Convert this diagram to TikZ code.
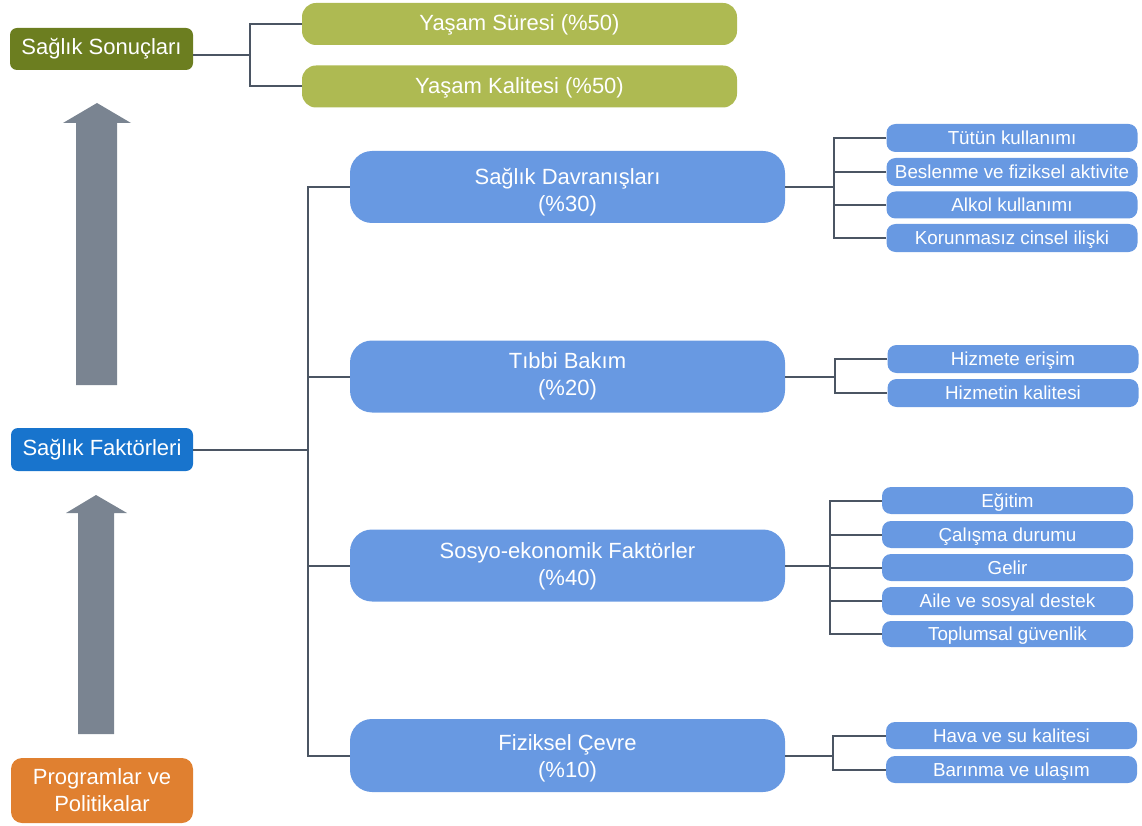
\documentclass[tikz,border=0pt]{standalone}
\usepackage{fontspec}
\setmainfont{Liberation Sans}
\definecolor{olivedark}{RGB}{108,126,32}
\definecolor{olivelight}{RGB}{174,186,82}
\definecolor{navblue}{RGB}{24,116,205}
\definecolor{boxblue}{RGB}{104,153,226}
\definecolor{orangebox}{RGB}{224,128,48}
\definecolor{arrowgray}{RGB}{122,132,145}
\definecolor{linkgray}{RGB}{75,85,99}
% two centred lines, lowered by #1 without changing the box size
\newcommand{\lowlines}[3]{\raisebox{-#1}[\height][\depth]{%
  \begin{tabular}{@{}c@{}}#2\\#3\end{tabular}}}
\tikzset{
  basebox/.style={inner sep=0pt, text=white, align=center,
    font=\fontsize{22}{27}\selectfont},
  toplabel/.style={basebox, fill=olivedark, rounded corners=7pt,
    minimum width=183pt, minimum height=42pt},
  outcome/.style={basebox, fill=olivelight, rounded corners=14pt,
    minimum width=435pt, minimum height=42pt},
  factorlabel/.style={basebox, fill=navblue, rounded corners=7pt,
    minimum width=182pt, minimum height=43pt},
  policylabel/.style={basebox, fill=orangebox, rounded corners=11pt,
    minimum width=182pt, minimum height=65pt},
  category/.style={basebox, fill=boxblue, rounded corners=22pt,
    minimum width=435pt, minimum height=72pt},
  detail/.style={basebox, fill=boxblue, rounded corners=9pt,
    minimum width=251pt, minimum height=28pt,
    text height=15.5pt, text depth=2pt,
    font=\fontsize{18.8}{22}\selectfont},
  link/.style={draw=linkgray, line width=2pt},
  bigarrow/.style={fill=arrowgray}
}
\begin{document}
\begin{tikzpicture}[x=1pt,y=-1pt]
\useasboundingbox (0,0) rectangle (1142,826);

% upward arrows between the three left-hand levels
\fill[bigarrow] (76,385) -- (76,123) -- (63,123) -- (97,103) -- (131,123)
  -- (117,123) -- (117,385) -- cycle;
\fill[bigarrow] (78,734) -- (78,513) -- (66,513) -- (96,495) -- (127,513)
  -- (114,513) -- (114,734) -- cycle;

% left column
\node[toplabel] (ss) at (101.5,49) {Sağlık Sonuçları};
\node[factorlabel] (sf) at (102,449.5) {Sağlık Faktörleri};
\node[policylabel] (pp) at (102,790.5) {Programlar ve\\Politikalar};

% outcomes
\node[outcome] (ys) at (519.5,24) {\raisebox{-1pt}[\height][\depth]{Yaşam Süresi (\%50)}};
\node[outcome] (yk) at (519.5,86.5) {\raisebox{-1pt}[\height][\depth]{Yaşam Kalitesi (\%50)}};

% factor categories
\node[category] (m1) at (567.5,187) {\lowlines{6pt}{Sağlık Davranışları}{(\%30)}};
\node[category] (m2) at (567.5,376.5) {\lowlines{0pt}{Tıbbi Bakım}{(\%20)}};
\node[category] (m3) at (567.5,565.5) {\lowlines{1.5pt}{Sosyo-ekonomik Faktörler}{(\%40)}};
\node[category, minimum height=73pt] (m4) at (567.5,755.5) {\lowlines{3pt}{Fiziksel Çevre}{(\%10)}};

% details: health behaviours
\node[detail] (d11) at (1012,138) {Tütün kullanımı};
\node[detail] (d12) at (1012,172) {Beslenme ve fiziksel aktivite};
\node[detail, minimum height=27pt] (d13) at (1012,205) {Alkol kullanımı};
\node[detail] (d14) at (1012,238) {Korunmasız cinsel ilişki};
% details: clinical care
\node[detail] (d21) at (1013,359) {Hizmete erişim};
\node[detail] (d22) at (1013,393) {Hizmetin kalitesi};
% details: socio-economic factors
\node[detail, minimum height=27pt] (d31) at (1007.5,500.5) {Eğitim};
\node[detail, minimum height=27pt] (d32) at (1007.5,534.5) {Çalışma durumu};
\node[detail, minimum height=27pt] (d33) at (1007.5,567.5) {Gelir};
\node[detail] (d34) at (1007.5,601) {Aile ve sosyal destek};
\node[detail, minimum height=26pt] (d35) at (1007.5,634) {Toplumsal güvenlik};
% details: physical environment
\node[detail, minimum height=27pt] (d41) at (1011.5,735.5) {Hava ve su kalitesi};
\node[detail, minimum height=27pt] (d42) at (1011.5,769.5) {Barınma ve ulaşım};

% junction points of the bracket connectors
\coordinate (jtop) at (250,55);
\coordinate (jleft) at (308,449.5);
\coordinate (j1) at (834,187);
\coordinate (j2) at (835,376.5);
\coordinate (j3) at (830,565.5);
\coordinate (j4) at (833,755.5);

% outcome bracket
\draw[link] (ss.east |- jtop) -- (jtop);
\draw[link] (ys.west) -| (jtop) |- (yk.west);

% factor bracket
\draw[link] (sf.east) -- (jleft);
\draw[link] (m1.west) -| (jleft) |- (m4.west);
\draw[link] (m2.west) -- (m2.west -| jleft);
\draw[link] (m3.west) -- (m3.west -| jleft);

% detail brackets
\draw[link] (m1.east) -- (j1);
\draw[link] (d11.west) -| (j1) |- (d14.west);
\draw[link] (d12.west) -- (d12.west -| j1);
\draw[link] (d13.west) -- (d13.west -| j1);

\draw[link] (m2.east) -- (j2);
\draw[link] (d21.west) -| (j2) |- (d22.west);

\draw[link] (m3.east) -- (j3);
\draw[link] (d31.west) -| (j3) |- (d35.west);
\draw[link] (d32.west) -- (d32.west -| j3);
\draw[link] (d33.west) -- (d33.west -| j3);
\draw[link] (d34.west) -- (d34.west -| j3);

\draw[link] (m4.east) -- (j4);
\draw[link] (d41.west) -| (j4) |- (d42.west);
\end{tikzpicture}
\end{document}
